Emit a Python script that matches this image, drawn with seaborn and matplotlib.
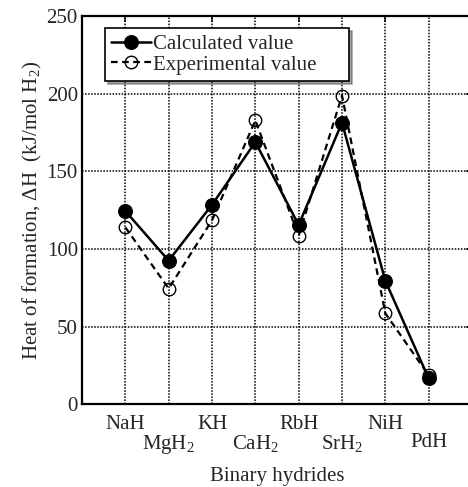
import numpy as np
import pandas as pd
import matplotlib
matplotlib.use("Agg")
import matplotlib.pyplot as plt
import seaborn as sns

# data
hydrides = ["NaH", "MgH$_2$", "KH", "CaH$_2$", "RbH", "SrH$_2$", "NiH", "PdH"]
calculated = [124.5, 92.5, 128.5, 169, 115.5, 181.5, 79.5, 16.5]
experimental = [114, 74.5, 118.5, 183, 108.5, 199, 58.5, 18.5]
series_names = ["Calculated value", "Experimental value"]

pos = np.arange(1, len(hydrides) + 1)
df = pd.DataFrame({"pos": pos, "calc": calculated, "exp": experimental})

sns.set_style("white")
plt.rcParams["font.family"] = ["Liberation Serif", "DejaVu Serif"]
plt.rcParams["mathtext.fontset"] = "custom"
plt.rcParams["mathtext.rm"] = "Liberation Serif"

fs = 15

fig = plt.figure(figsize=(4.68, 4.87), dpi=100)
ax = fig.add_axes([82 / 468, 83 / 487, 390 / 468, 387.5 / 487])

sns.lineplot(data=df, x="pos", y="calc", ax=ax, color="black", linewidth=1.8,
             marker="o", markersize=10, markerfacecolor="black",
             markeredgecolor="black", label=series_names[0], zorder=4)
sns.lineplot(data=df, x="pos", y="exp", ax=ax, color="black", linewidth=1.6,
             linestyle=(0, (3, 2)), marker="o", markersize=9,
             markerfacecolor="none", markeredgecolor="black", markeredgewidth=1.0,
             label=series_names[1], zorder=3)

ax.set_xlim(0, 9)
ax.set_ylim(0, 250)

# alternate labels on two rows
ax.set_xticks(pos[0::2])
ax.set_xticklabels(hydrides[0::2])
ax.set_xticks(pos[1::2], minor=True)
ax.set_xticklabels(hydrides[1::2], minor=True)
ax.set_yticks(np.arange(0, 251, 50))

ax.tick_params(axis="x", which="major", direction="in", length=4, width=1.2,
               top=True, labelsize=fs, pad=8)
ax.tick_params(axis="x", which="minor", direction="out", length=20, width=1.0,
               top=False, labelsize=fs, pad=1)
ax.tick_params(axis="y", direction="in", length=4, width=1.2, right=True,
               labelsize=fs, pad=3)

for x in pos:
    ax.axvline(x, color="black", linestyle=(0, (1, 1)), linewidth=1.1, zorder=1)
for y in [50, 100, 150, 200]:
    ax.axhline(y, color="black", linestyle=(0, (1, 1)), linewidth=1.1, zorder=1)

for s in ax.spines.values():
    s.set_linewidth(1.6)
    s.set_color("black")

ax.set_xlabel("Binary hydrides", fontsize=fs, labelpad=8)
ax.set_ylabel("Heat of formation, \u0394H  (kJ/mol H$_2$)", fontsize=fs, labelpad=2)

handles, labels = ax.get_legend_handles_labels()
leg = ax.legend(handles, [l + "     " for l in labels],
                loc="upper left", bbox_to_anchor=(0.059, 0.97), borderaxespad=0,
                fontsize=fs, frameon=True, fancybox=False, shadow=True,
                handlelength=1.9, handletextpad=0.1, borderpad=0.3,
                labelspacing=0.05)
leg.get_frame().set_edgecolor("black")
leg.get_frame().set_linewidth(1.2)

fig.savefig("out.png", dpi=100)
